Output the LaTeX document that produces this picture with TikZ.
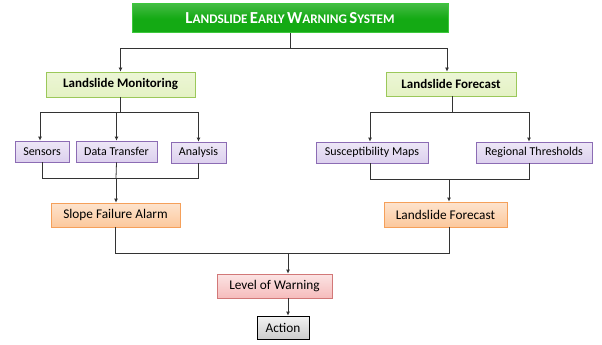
\documentclass[tikz,border=0pt]{standalone}
\usepackage{fontspec}
\setmainfont{Carlito}
\usetikzlibrary{arrows.meta}
\definecolor{titlegreen}{HTML}{14AA14}
\definecolor{titleedge}{HTML}{3CC83C}
\definecolor{headfill}{HTML}{E4F2C4}
\definecolor{headedge}{HTML}{9BC85A}
\definecolor{taskfill}{HTML}{DCD0EE}
\definecolor{taskedge}{HTML}{8C6CB4}
\definecolor{resfill}{HTML}{FCC89C}
\definecolor{resedge}{HTML}{F5A05A}
\definecolor{warnfill}{HTML}{F6BCBC}
\definecolor{warnedge}{HTML}{D27878}
\newcommand{\fakesc}[2]{{\fontsize{16.8}{19}\selectfont #1}{\fontsize{13.2}{15}\selectfont #2}}
\tikzset{
  box/.style={draw, inner sep=0pt, align=center},
  titlebox/.style={box, draw=titleedge, line width=1pt, top color=titlegreen!80!white, bottom color=titlegreen, middle color=titlegreen, text=white, font=\bfseries},
  headbox/.style={box, draw=headedge, line width=0.8pt, top color=headfill!70!white, bottom color=headfill, font=\bfseries\fontsize{13}{15}\selectfont},
  taskbox/.style={box, draw=taskedge, line width=0.8pt, top color=taskfill!50!white, bottom color=taskfill, font=\fontsize{12}{14}\selectfont},
  resbox/.style={box, draw=resedge, line width=0.8pt, top color=resfill!50!white, bottom color=resfill, font=\fontsize{13.3}{15}\selectfont},
  warnbox/.style={box, draw=warnedge, line width=0.8pt, top color=warnfill!40!white, bottom color=warnfill, font=\fontsize{13.3}{15}\selectfont},
  actbox/.style={box, draw=black, line width=0.8pt, top color=gray!10, bottom color=gray!40, font=\fontsize{13.3}{15}\selectfont},
  wire/.style={draw=black!80, line width=0.8pt},
  arr/.style={wire, -{Latex[length=4pt,width=4pt]}}
}
\begin{document}
\begin{tikzpicture}[x=1pt,y=-1pt]
\useasboundingbox[fill=white] (0,0) rectangle (602,345);
% Title
\node[titlebox, minimum width=316pt, minimum height=29pt] (title) at (290,18.5)
  {\fakesc{L}{ANDSLIDE} \fakesc{E}{ARLY} \fakesc{W}{ARNING} \fakesc{S}{YSTEM}};
% Two branches
\node[headbox, minimum width=149pt, minimum height=25pt] (mon) at (120.5,84.5) {Landslide Monitoring};
\node[headbox, minimum width=130pt, minimum height=24pt] (fore) at (451,84) {Landslide Forecast};
% Monitoring tasks
\node[taskbox, minimum width=54pt, minimum height=21pt] (sens) at (42,151.5) {Sensors};
\node[taskbox, minimum width=81pt, minimum height=21pt] (data) at (116.5,151.5) {Data Transfer};
\node[taskbox, minimum width=55pt, minimum height=21pt] (anal) at (198.5,152.5) {Analysis};
% Forecast tasks
\node[taskbox, minimum width=112pt, minimum height=21pt] (susc) at (372,152.5) {Susceptibility Maps};
\node[taskbox, minimum width=116pt, minimum height=21pt] (regi) at (534,152.5) {Regional Thresholds};
% Results
\node[resbox, minimum width=129pt, minimum height=24pt] (slope) at (115.5,215) {Slope Failure Alarm};
\node[resbox, minimum width=123pt, minimum height=25pt] (lfc) at (445.5,214.5) {Landslide Forecast};
\node[warnbox, minimum width=115pt, minimum height=24pt] (level) at (274.5,286) {Level of Warning};
\node[actbox, minimum width=52pt, minimum height=23pt] (act) at (283,327.5) {Action};
% Junction points
\coordinate (tj) at (290,48);
\coordinate (mj) at (120,112);
\coordinate (fj) at (452,112);
\coordinate (mb) at (116,178);
\coordinate (fb) at (449,179);
\coordinate (lb) at (288,253);
% Connectors
\draw[wire] (title.south) -- (tj);
\draw[arr] (tj) -| (mon.north);
\draw[arr] (tj) -| ([xshift=-4pt]fore.north);
\draw[wire] (mon.south -| mj) -- (mj);
\draw[arr] (mj) -| ([xshift=-2pt]sens.north);
\draw[arr] (mj) -| (data.north);
\draw[arr] (mj) -| (anal.north);
\draw[wire] (fore.south -| fj) -- (fj);
\draw[arr] (fj) -| ([xshift=-2pt]susc.north);
\draw[arr] (fj) -| ([xshift=-5pt]regi.north);
\draw[wire] (sens.south) |- (mb);
\draw[wire] (data.south) -- (mb);
\draw[wire] (anal.south) |- (mb);
\draw[arr] (mb) -- (slope.north -| mb);
\draw[wire] ([xshift=-2pt]susc.south) |- (fb);
\draw[wire] ([xshift=-5pt]regi.south) |- (fb);
\draw[arr] (fb) -- (lfc.north -| fb);
\draw[wire] (slope.south) |- (lb);
\draw[wire] (lfc.south -| fb) |- (lb);
\draw[arr] (lb) -- (level.north -| lb);
\draw[arr] (level.south -| lb) -- (act.north -| lb);
\end{tikzpicture}
\end{document}
